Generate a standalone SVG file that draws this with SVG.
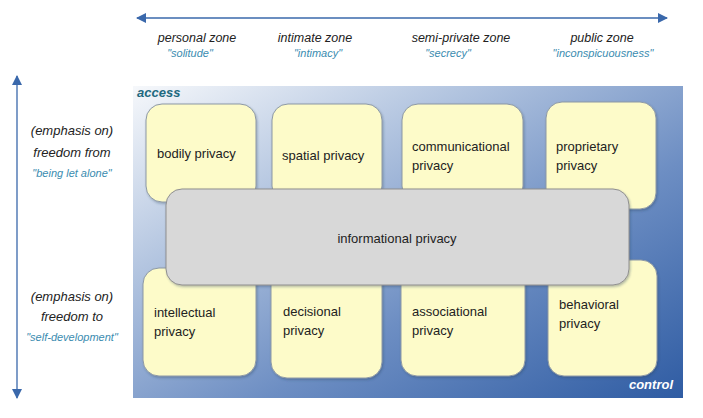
<svg xmlns="http://www.w3.org/2000/svg" width="703" height="418" viewBox="0 0 703 418">
<defs>
<linearGradient id="panelGrad" x1="0" y1="0" x2="1" y2="1">
<stop offset="0" stop-color="#f6f8fb"/>
<stop offset="0.3" stop-color="#b3c5e0"/>
<stop offset="0.62" stop-color="#6d8ec3"/>
<stop offset="1" stop-color="#2f5ca3"/>
</linearGradient>
<marker id="ah" viewBox="0 0 10 10" refX="9" refY="5" markerWidth="10" markerHeight="10" markerUnits="userSpaceOnUse" orient="auto-start-reverse">
<path d="M0,0 L10,5 L0,10 z" fill="#3a68ab"/>
</marker>
<filter id="sh" x="-10%" y="-10%" width="120%" height="120%">
<feDropShadow dx="1" dy="1.5" stdDeviation="1.2" flood-color="#2a3f60" flood-opacity="0.35"/>
</filter>
</defs>
<style>
.zone{font-family:"Liberation Sans",Arial,sans-serif;font-style:italic;font-size:12.5px;fill:#222;text-anchor:middle}
.quote{font-family:"Liberation Sans",Arial,sans-serif;font-style:italic;font-size:11px;fill:#3a8cb0;text-anchor:middle}
.side{font-family:"Liberation Sans",Arial,sans-serif;font-style:italic;font-size:13px;fill:#222;text-anchor:middle}
.box{fill:#fdfbc9;stroke:#8c98a6;stroke-width:1}
.grey{fill:#d8d8d8;stroke:#8f8f8f;stroke-width:1}
.lbl{font-family:"Liberation Sans",Arial,sans-serif;font-size:13px;fill:#222}
.corner{font-family:"Liberation Sans",Arial,sans-serif;font-style:italic;font-weight:bold;font-size:13px}
.axis{stroke:#3a68ab;stroke-width:1.3;fill:none}
</style>
<rect width="703" height="418" fill="#ffffff"/>
<g id="connectors">
<line class="axis" x1="137" y1="18" x2="667" y2="18" marker-start="url(#ah)" marker-end="url(#ah)"/>
<line class="axis" x1="17" y1="76" x2="17" y2="398" marker-start="url(#ah)" marker-end="url(#ah)"/>
</g>
<g id="zones">
<text class="zone" x="197" y="42">personal zone</text>
<text class="quote" x="190" y="57">"solitude"</text>
<text class="zone" x="315" y="42">intimate zone</text>
<text class="quote" x="318" y="57">"intimacy"</text>
<text class="zone" x="461" y="42">semi-private zone</text>
<text class="quote" x="448" y="57">"secrecy"</text>
<text class="zone" x="602" y="42">public zone</text>
<text class="quote" x="603" y="57">"inconspicuousness"</text>
</g>
<g id="side-labels">
<text class="side" x="72" y="135">(emphasis on)</text>
<text class="side" x="72" y="157">freedom from</text>
<text class="quote" x="72" y="177">"being let alone"</text>
<text class="side" x="72" y="301">(emphasis on)</text>
<text class="side" x="72" y="321">freedom to</text>
<text class="quote" x="72" y="341">"self-development"</text>
</g>
<g id="panel">
<rect x="133" y="86" width="550" height="312" fill="url(#panelGrad)"/>
<text class="corner" x="137" y="97" fill="#1f6a80">access</text>
<text class="corner" x="673" y="389" fill="#ffffff" text-anchor="end">control</text>
</g>
<g id="bodily"><rect class="box" x="146" y="104" width="110" height="98" rx="16" filter="url(#sh)"/><text class="lbl" x="157" y="158">bodily privacy</text></g>
<g id="spatial"><rect class="box" x="272" y="104" width="110" height="98" rx="16" filter="url(#sh)"/><text class="lbl" x="282" y="160">spatial privacy</text></g>
<g id="communicational"><rect class="box" x="402" y="104" width="121" height="98" rx="16" filter="url(#sh)"/><text class="lbl" x="412" y="151">communicational</text><text class="lbl" x="412" y="170">privacy</text></g>
<g id="proprietary"><rect class="box" x="546" y="102" width="110" height="107" rx="16" filter="url(#sh)"/><text class="lbl" x="556" y="151">proprietary</text><text class="lbl" x="556" y="170">privacy</text></g>
<g id="intellectual"><rect class="box" x="143" y="268" width="113" height="108" rx="16" filter="url(#sh)"/><text class="lbl" x="154" y="317">intellectual</text><text class="lbl" x="154" y="336">privacy</text></g>
<g id="decisional"><rect class="box" x="271" y="268" width="111" height="110" rx="16" filter="url(#sh)"/><text class="lbl" x="283" y="316">decisional</text><text class="lbl" x="283" y="335">privacy</text></g>
<g id="associational"><rect class="box" x="401" y="268" width="124" height="108" rx="16" filter="url(#sh)"/><text class="lbl" x="412" y="316">associational</text><text class="lbl" x="412" y="335">privacy</text></g>
<g id="behavioral"><rect class="box" x="548" y="260" width="109" height="116" rx="16" filter="url(#sh)"/><text class="lbl" x="559" y="309">behavioral</text><text class="lbl" x="559" y="328">privacy</text></g>
<g id="informational"><rect class="grey" x="166" y="189" width="463" height="96" rx="16" filter="url(#sh)"/><text class="lbl" x="397" y="243" text-anchor="middle">informational privacy</text></g>
</svg>
